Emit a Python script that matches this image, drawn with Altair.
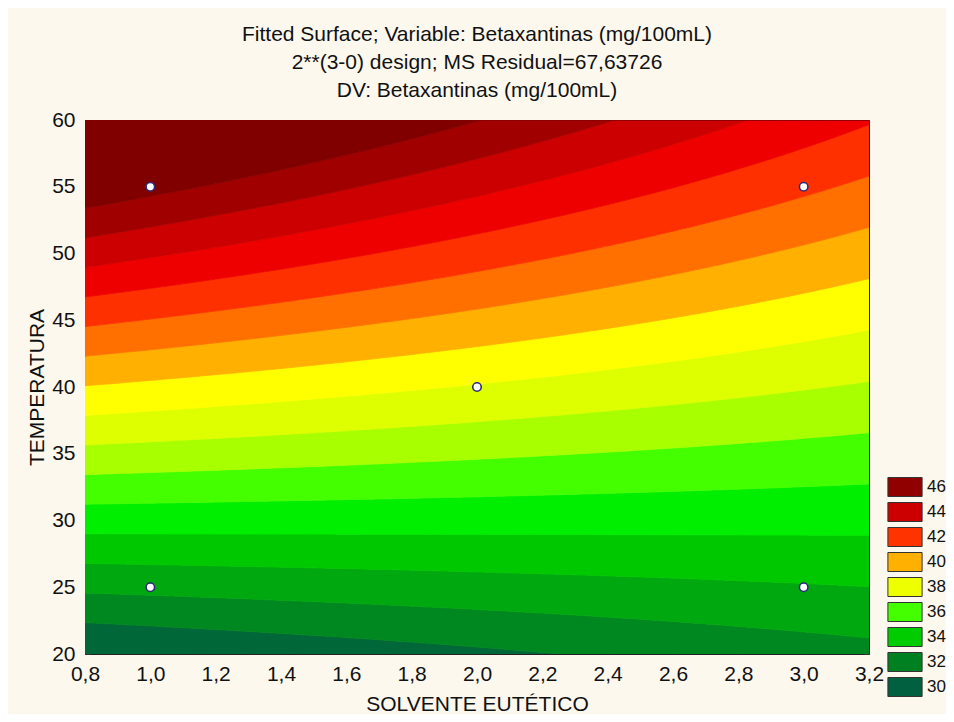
import altair as alt
import numpy as np
import pandas as pd

# ---------------- values ----------------
# fitted surface z = b0 + b1*x + b2*y + b12*x*y (coefficients estimated from the contour positions)
surface_coef = {"b0": 19.068, "b1": 2.318, "b2": 0.5145, "b12": -0.0795}
contour_levels = [31, 32, 33, 34, 35, 36, 37, 38, 39, 40, 41, 42, 43, 44, 45]
band_colors = ["#006838", "#008820", "#00A810", "#00C800", "#00EE00", "#44FF00",
               "#A8FF00", "#DDFF00", "#FFFF00", "#FFB000", "#FF7000", "#FF3000",
               "#EE0000", "#CC0000", "#A00000", "#800000"]
legend_labels = ["46", "44", "42", "40", "38", "36", "34", "32", "30"]
legend_colors = ["#900000", "#CC0000", "#FF3300", "#FFB000", "#EEFF00",
                 "#44FF00", "#00CC00", "#008020", "#006040"]
design_solvente = [1.0, 3.0, 2.0, 1.0, 3.0]
design_temperatura = [55, 55, 40, 25, 25]
x_ticks = [0.8, 1.0, 1.2, 1.4, 1.6, 1.8, 2.0, 2.2, 2.4, 2.6, 2.8, 3.0, 3.2]
y_ticks = [20, 25, 30, 35, 40, 45, 50, 55, 60]
x_domain = [0.8, 3.2]
y_domain = [20, 60]
title_lines = ["Fitted Surface; Variable: Betaxantinas (mg/100mL)",
               "2**(3-0) design; MS Residual=67,63726",
               "DV: Betaxantinas (mg/100mL)"]

FONT = "Liberation Sans"

# ---------------- build the filled contour bands from the surface ----------------
xs = np.linspace(x_domain[0], x_domain[1], 241)


def level_y(z, x):
    c = surface_coef
    return (z - c["b0"] - c["b1"] * x) / (c["b2"] + c["b12"] * x)


bounds = [None] + contour_levels + [None]
rows = []
for k in range(len(band_colors)):
    lo, hi = bounds[k], bounds[k + 1]
    for x in xs:
        ylo = y_domain[0] if lo is None else float(np.clip(level_y(lo, x), *y_domain))
        yhi = y_domain[1] if hi is None else float(np.clip(level_y(hi, x), *y_domain))
        rows.append({"x": float(x), "ylo": ylo, "yhi": yhi, "band": k})
bands = pd.DataFrame(rows)

xscale = alt.Scale(domain=x_domain, nice=False, zero=False)
yscale = alt.Scale(domain=y_domain, nice=False, zero=False)
band_domain = list(range(len(band_colors)))

area = alt.Chart(bands).mark_area(clip=True, strokeWidth=0.8).encode(
    x=alt.X("x:Q", scale=xscale, axis=alt.Axis(
        orient="bottom", values=x_ticks,
        labelExpr="replace(format(datum.value, '.1f'), '.', ',')",
        tickSize=5, offset=-5, domain=False, grid=False, tickColor="#333333",
        labelFontSize=21, labelPadding=9, labelColor="#111111", labelFlush=False,
        title="SOLVENTE EUTÉTICO", titleFontSize=21, titleFontWeight="normal",
        titleColor="#111111", titlePadding=9)),
    y=alt.Y("ylo:Q", stack=False, scale=yscale, axis=alt.Axis(
        orient="left", values=y_ticks, format="d",
        tickSize=5, offset=-5, domain=False, grid=False, tickColor="#333333",
        labelFontSize=21, labelPadding=10, labelColor="#111111", labelFlush=False,
        title="TEMPERATURA", titleFontSize=21, titleFontWeight="normal",
        titleColor="#111111", titlePadding=4)),
    y2="yhi:Q",
    color=alt.Color("band:O", scale=alt.Scale(domain=band_domain, range=band_colors), legend=None),
    stroke=alt.Stroke("band:O", scale=alt.Scale(domain=band_domain, range=band_colors), legend=None),
)

pts_df = pd.DataFrame({"s": design_solvente, "t": design_temperatura})
pts = alt.Chart(pts_df).mark_circle(
    size=72, color="white", opacity=1, stroke="#2E2A78", strokeWidth=1.6
).encode(
    x=alt.X("s:Q", scale=xscale, axis=alt.Axis(
        orient="top", values=x_ticks, labels=False, title=None, tickSize=5,
        offset=-5, domain=False, grid=False, tickColor="#333333")),
    y=alt.Y("t:Q", scale=yscale, axis=alt.Axis(
        orient="right", values=y_ticks, labels=False, title=None, tickSize=5,
        offset=-5, domain=False, grid=False, tickColor="#333333")),
)

leg_df = pd.DataFrame({"lab": legend_labels})
leg = alt.Chart(leg_df).mark_point(filled=True, opacity=0).encode(
    x=alt.value(0), y=alt.value(0),
    fill=alt.Fill("lab:N", scale=alt.Scale(domain=legend_labels, range=legend_colors),
                  legend=alt.Legend(
                      title=None, orient="none", legendX=810, legendY=357,
                      symbolType="M-1.8,-1H1.8V1H-1.8Z", symbolSize=361,
                      symbolStrokeColor="#333333", symbolStrokeWidth=1,
                      symbolOpacity=1, labelFontSize=17, labelColor="#111111",
                      labelFont=FONT, labelOffset=12, rowPadding=1)),
)

chart = alt.layer(area, pts, leg).resolve_axis(
    x="independent", y="independent"
).properties(
    width=784, height=534,
    title=alt.Title(title_lines, fontSize=21, font=FONT, fontWeight="normal",
                    anchor="middle", lineHeight=28, offset=8, color="#111111"),
    background="#FCF8EE",
    padding={"left": 77, "top": 112, "right": 77, "bottom": 60},
    autosize=alt.AutoSizeParams(type="none"),
).configure(
    font=FONT
).configure_view(
    stroke="#222222", strokeWidth=1
).configure_axis(
    labelFont=FONT, titleFont=FONT
)

chart.save("out.html", embed_options={"renderer": "svg", "actions": False})
